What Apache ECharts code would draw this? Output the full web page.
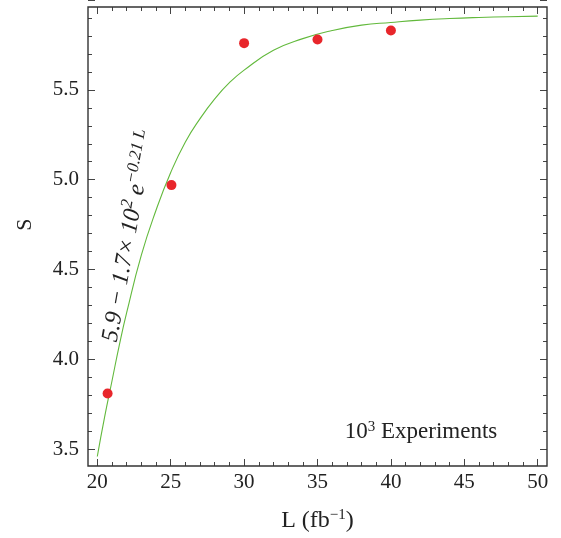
<!DOCTYPE html>
<html>
<head>
<meta charset="utf-8">
<script src="https://cdn.jsdelivr.net/npm/echarts@6/dist/echarts.min.js"></script>
<style>
  html, body { margin: 0; padding: 0; background: #fff; }
  #chart { width: 561px; height: 538px; }
</style>
</head>
<body>
<div id="chart"></div>
<script>
// fitted curve
const curveL = [20, 20.5, 21, 21.5, 22, 23, 24, 25, 26, 27, 28, 29, 30, 32, 34, 36, 38, 40, 42, 44, 46, 48, 50];
const curveS = [3.46, 3.68, 3.88, 4.08, 4.26, 4.58, 4.83, 5.04, 5.21, 5.34, 5.45, 5.54, 5.61, 5.72, 5.785, 5.83, 5.86, 5.875, 5.888, 5.897, 5.903, 5.907, 5.91];

// measured points
const pointL = [20.7, 25.05, 30, 35, 40];
const pointS = [3.81, 4.97, 5.76, 5.78, 5.83];

// axis ticks
const xMin = 20, xMax = 50, xStep = 5;
const yMin = 3.5, yMax = 6.0, yStep = 0.5;

const serif = '"Liberation Serif", "DejaVu Serif", serif';
const ink = '#222';
const tickColor = '#444';

const chart = echarts.init(document.getElementById('chart'));

const tickAxis = (extra) => Object.assign({
  type: 'value',
  axisLine: { show: false, onZero: false },
  axisTick: { show: true, inside: true, length: 7, lineStyle: { color: tickColor, width: 1 } },
  minorTick: { show: true, splitNumber: 5, length: 4, lineStyle: { color: tickColor, width: 1 } },
  axisLabel: { show: false },
  splitLine: { show: false },
  minorSplitLine: { show: false },
}, extra);

const option = {
  animation: false,
  grid: [
    { left: 97.3, right: 23.3, top: -0.7, bottom: 88.7 },
    // strip above the frame: its bottom edge is the frame's top line
    { left: 97.3, right: 23.3, top: 0, height: 7 }
  ],
  xAxis: [
    tickAxis({
      gridIndex: 0, position: 'bottom', offset: 16.7, min: xMin, max: xMax, interval: xStep,
      axisLabel: { show: true, color: ink, fontFamily: serif, fontSize: 21, margin: 6 },
      name: 'L (fb{sup|−1})', nameLocation: 'middle', nameGap: 42,
      nameTextStyle: {
        color: ink, fontFamily: serif, fontSize: 24,
        rich: { sup: { fontFamily: serif, fontSize: 15, verticalAlign: 'top', color: ink, padding: [0, 0, 10, 0] } }
      }
    }),
    // top ticks: a bottom axis of the strip, ticks pointing down into the frame
    tickAxis({
      gridIndex: 1, position: 'bottom', min: xMin, max: xMax, interval: xStep,
      axisTick: { show: true, inside: false, length: 7, lineStyle: { color: tickColor, width: 1 } },
      minorTick: { show: true, splitNumber: 5, length: 4, lineStyle: { color: tickColor, width: 1 } }
    })
  ],
  yAxis: [
    tickAxis({
      gridIndex: 0, position: 'left', offset: 9.3, min: yMin, max: yMax, interval: yStep,
      axisLabel: {
        show: true, color: ink, fontFamily: serif, fontSize: 21, margin: 9, showMaxLabel: false,
        formatter: v => v.toFixed(1)
      },
      name: 'S', nameLocation: 'middle', nameRotate: 90, nameGap: 52,
      nameTextStyle: { color: ink, fontFamily: serif, fontSize: 22 }
    }),
    tickAxis({
      gridIndex: 0, position: 'right', offset: 9.3, min: yMin, max: yMax, interval: yStep
    }),
    {
      gridIndex: 1, type: 'value', show: false, min: 0, max: 1
    }
  ],
  graphic: [
    {
      type: 'rect', z: 100, silent: true,
      shape: { x: 88, y: 7, width: 459, height: 459 },
      style: { fill: 'none', stroke: '#333', lineWidth: 1.4 }
    },
    {
      type: 'text', z: 100, x: 129, y: 236, rotation: 80 * Math.PI / 180,
      style: {
        text: '5.9 − 1.7× 10{s|2} e{s|−0.21 L}',
        font: 'italic 24px ' + serif,
        fill: ink,
        textAlign: 'center', textVerticalAlign: 'middle',
        rich: {
          s: { font: 'italic 17px ' + serif, fill: ink, verticalAlign: 'top', padding: [0, 0, 14, 0] }
        }
      }
    },
    {
      type: 'text', z: 100, x: 421, y: 432,
      style: {
        text: '10{s|3} Experiments',
        font: '23px ' + serif,
        fill: ink,
        textAlign: 'center', textVerticalAlign: 'middle',
        rich: { s: { font: '15px ' + serif, fill: ink, verticalAlign: 'top', padding: [0, 0, 10, 0] } }
      }
    }
  ],
  series: [
    {
      type: 'line', data: curveL.map((l, i) => [l, curveS[i]]),
      xAxisIndex: 0, yAxisIndex: 0,
      smooth: true, showSymbol: false, clip: false,
      lineStyle: { color: '#62b93c', width: 1.1 },
      z: 2
    },
    {
      type: 'scatter', data: pointL.map((l, i) => [l, pointS[i]]),
      xAxisIndex: 0, yAxisIndex: 0,
      symbolSize: 10, itemStyle: { color: '#e8262b', opacity: 1 },
      z: 3
    }
  ]
};

chart.setOption(option);
</script>
</body>
</html>
